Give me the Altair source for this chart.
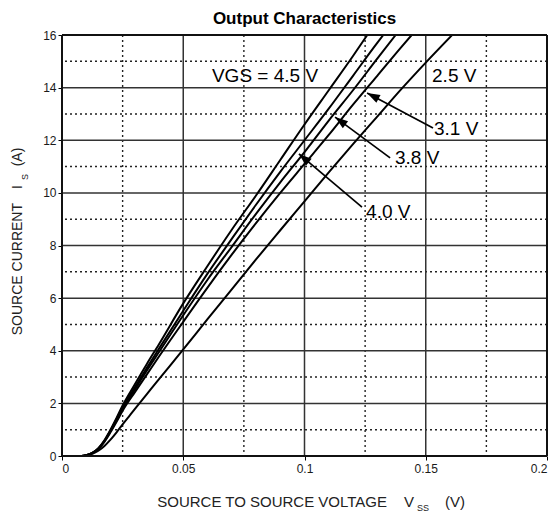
import math
import altair as alt
import pandas as pd

TITLE = "Output Characteristics"
FONT = "Liberation Sans"

# ---- curve data (VSS in V, IS in A) ----
vgs_labels = ["4.5 V", "4.0 V", "3.8 V", "3.1 V", "2.5 V"]

c45_x = [0, 0.008, 0.01, 0.0125, 0.015, 0.0175, 0.02, 0.0225, 0.025, 0.03, 0.035, 0.04, 0.05, 0.06, 0.07, 0.08, 0.09, 0.1, 0.11, 0.12, 0.1259]
c45_y = [0, 0, 0.03, 0.12, 0.3, 0.6, 1.0, 1.45, 1.92, 2.72, 3.5, 4.25, 5.8, 7.22, 8.6, 9.9, 11.25, 12.6, 13.9, 15.2, 16]

c40_x = [0, 0.008, 0.01, 0.0125, 0.015, 0.0175, 0.02, 0.0225, 0.025, 0.03, 0.035, 0.04, 0.05, 0.06, 0.07, 0.08, 0.09, 0.1, 0.11, 0.12, 0.13, 0.1325]
c40_y = [0, 0, 0.03, 0.12, 0.29, 0.58, 0.97, 1.4, 1.85, 2.6, 3.35, 4.08, 5.52, 6.93, 8.25, 9.55, 10.8, 12.0, 13.2, 14.45, 15.7, 16]

c38_x = [0, 0.008, 0.01, 0.0125, 0.015, 0.0175, 0.02, 0.0225, 0.025, 0.03, 0.035, 0.04, 0.05, 0.06, 0.07, 0.08, 0.09, 0.1, 0.11, 0.12, 0.13, 0.1376]
c38_y = [0, 0, 0.03, 0.11, 0.28, 0.56, 0.94, 1.35, 1.78, 2.52, 3.25, 3.95, 5.35, 6.7, 7.95, 9.2, 10.4, 11.55, 12.75, 13.9, 15.1, 16]

c31_x = [0, 0.008, 0.01, 0.0125, 0.015, 0.0175, 0.02, 0.0225, 0.025, 0.03, 0.035, 0.04, 0.05, 0.06, 0.07, 0.08, 0.09, 0.1, 0.11, 0.12, 0.13, 0.14, 0.1442]
c31_y = [0, 0, 0.03, 0.11, 0.27, 0.54, 0.9, 1.3, 1.72, 2.42, 3.1, 3.78, 5.1, 6.4, 7.65, 8.85, 10.0, 11.1, 12.2, 13.35, 14.45, 15.55, 16]

c25_x = [0, 0.008, 0.01, 0.0125, 0.015, 0.0175, 0.02, 0.0225, 0.025, 0.0275, 0.03, 0.035, 0.04, 0.05, 0.06, 0.07, 0.08, 0.09, 0.1, 0.11, 0.12, 0.13, 0.14, 0.15, 0.1609]
c25_y = [0, 0, 0.02, 0.08, 0.2, 0.38, 0.62, 0.9, 1.2, 1.49, 1.78, 2.35, 2.92, 4.05, 5.2, 6.33, 7.47, 8.58, 9.68, 10.78, 11.85, 12.9, 13.95, 14.95, 16]

curve_x = [c45_x, c40_x, c38_x, c31_x, c25_x]
curve_y = [c45_y, c40_y, c38_y, c31_y, c25_y]

# ---- axes / grid ----
x_ticks = [0, 0.05, 0.1, 0.15, 0.2]
y_ticks = [0, 2, 4, 6, 8, 10, 12, 14, 16]
x_major = [0.05, 0.1, 0.15]
x_minor = [0.025, 0.075, 0.125, 0.175]
y_major = [2, 4, 6, 8, 10, 12, 14]
y_minor = [1, 3, 5, 7, 9, 11, 13, 15]
x_frame = [0, 0.2]
y_frame = [0, 16]

# ---- annotations ----
vgs_text = ["VGS = 4.5 V"]
vgs_x = [0.1056]
vgs_y = [14.44]
label_text = ["2.5 V", "3.1 V", "3.8 V", "4.0 V"]
label_x = [0.1526, 0.1534, 0.1373, 0.1254]
label_y = [14.44, 12.43, 11.33, 9.27]
arrow_tail_x = [0.1530, 0.1353, 0.1237]
arrow_tail_y = [12.47, 11.33, 9.46]
arrow_tip_x = [0.1258, 0.1126, 0.0977]
arrow_tip_y = [13.80, 12.88, 11.48]

W, H = 485, 421
XMAX, YMAX = 0.2, 16

rows = []
for lab, xs_, ys_ in zip(vgs_labels, curve_x, curve_y):
    for a, b in zip(xs_, ys_):
        rows.append({"vgs": lab, "vss": a, "is": b})
curves_df = pd.DataFrame(rows)

angles = []
for tx, ty, hx, hy in zip(arrow_tail_x, arrow_tail_y, arrow_tip_x, arrow_tip_y):
    dxp = (hx - tx) / XMAX * W
    dyp = -(hy - ty) / YMAX * H
    angles.append(math.degrees(math.atan2(dxp, -dyp)) % 360)
arrows_df = pd.DataFrame({"x": arrow_tail_x, "y": arrow_tail_y,
                          "x2": arrow_tip_x, "y2": arrow_tip_y, "ang": angles})

xs = alt.Scale(domain=[0, XMAX], nice=False, zero=False)
ys = alt.Scale(domain=[0, YMAX], nice=False, zero=False)

x_axis = alt.Axis(values=x_ticks, format="~g", title=None, grid=False, domain=False,
                  tickSize=4, tickColor="black", labelPadding=3, labelFontSize=12,
                  labelColor="#1a1a1a", labelFont=FONT)
y_axis = alt.Axis(values=y_ticks, format="d", title=None, grid=False, domain=False,
                  tickSize=4, tickColor="black", labelPadding=2, labelFontSize=12,
                  labelColor="#1a1a1a", labelFont=FONT)

def X(f):
    return alt.X(f, scale=xs, axis=x_axis)

def Y(f):
    return alt.Y(f, scale=ys, axis=y_axis)

def vrules(vals, **mk):
    return alt.Chart(pd.DataFrame({"v": vals})).mark_rule(**mk).encode(x=X("v:Q"))

def hrules(vals, **mk):
    return alt.Chart(pd.DataFrame({"v": vals})).mark_rule(**mk).encode(y=Y("v:Q"))

minor_style = dict(color="#222", strokeWidth=1.4, strokeDash=[2, 3])
major_style = dict(color="#333", strokeWidth=1.5)
frame_style = dict(color="#111", strokeWidth=2)

grid = alt.layer(
    vrules(x_minor, **minor_style), hrules(y_minor, **minor_style),
    vrules(x_major, **major_style), hrules(y_major, **major_style),
)
frame = alt.layer(vrules(x_frame, **frame_style), hrules(y_frame, **frame_style))

curves = alt.Chart(curves_df).mark_line(
    color="black", strokeWidth=2, interpolate="monotone", clip=True
).encode(x=X("vss:Q"), y=Y("is:Q"), detail="vgs:N")

vgs_df = pd.DataFrame({"t": vgs_text, "x": vgs_x, "y": vgs_y})
vgs_layer = alt.Chart(vgs_df).mark_text(
    align="right", baseline="middle", fontSize=19, font=FONT, color="black"
).encode(x=X("x:Q"), y=Y("y:Q"), text="t:N")

lab_df = pd.DataFrame({"t": label_text, "x": label_x, "y": label_y})
lab_layer = alt.Chart(lab_df).mark_text(
    align="left", baseline="middle", fontSize=19, font=FONT, color="black"
).encode(x=X("x:Q"), y=Y("y:Q"), text="t:N")

shafts = alt.Chart(arrows_df).mark_rule(color="black", strokeWidth=1.7).encode(
    x=X("x:Q"), y=Y("y:Q"), x2="x2:Q", y2="y2:Q")

heads = alt.Chart(arrows_df).mark_point(
    shape="M0,0L0.55,1.6L-0.55,1.6Z", filled=True, color="black",
    size=260, opacity=1, strokeWidth=0
).encode(x=X("x2:Q"), y=Y("y2:Q"), angle=alt.Angle("ang:Q", scale=None))

one = pd.DataFrame({"a": [0]})

def txt(s, x, y, size, **kw):
    return alt.Chart(one).mark_text(text=s, fontSize=size, font=FONT,
                                    color="#222", **kw).encode(
        x=alt.value(x), y=alt.value(y))

# axis-title pieces (pixel positions relative to the plot area)
xt_y = 467
x_title = alt.layer(
    txt("SOURCE TO SOURCE VOLTAGE", 325, xt_y, 15, align="right", baseline="middle"),
    txt("V", 342, xt_y, 15, align="left", baseline="middle"),
    txt("SS", 355, xt_y + 6, 9, align="left", baseline="middle"),
    txt("(V)", 383, xt_y, 15, align="left", baseline="middle"),
)
yt_x = -44
y_title = alt.layer(
    txt("SOURCE CURRENT", yt_x, 168, 14, align="right", baseline="middle", angle=270),
    txt("I", yt_x, 152, 14, align="center", baseline="middle", angle=270),
    txt("S", yt_x + 7, 142, 9, align="center", baseline="middle", angle=270),
    txt("(A)", yt_x, 122, 14, align="center", baseline="middle", angle=270),
)

chart = alt.layer(
    grid, vgs_layer, lab_layer, curves, shafts, heads, frame, x_title, y_title
).properties(
    width=W, height=H,
    title=alt.TitleParams(TITLE, fontSize=17, fontWeight="bold", font=FONT,
                          anchor="middle", offset=1, color="black"),
    autosize=alt.AutoSizeParams(type="none"),
    padding={"left": 62, "top": 35, "right": 8, "bottom": 57},
).configure_view(
    stroke=None
).configure(background="white")

chart.save("out.html", embed_options={"renderer": "svg", "actions": False})
